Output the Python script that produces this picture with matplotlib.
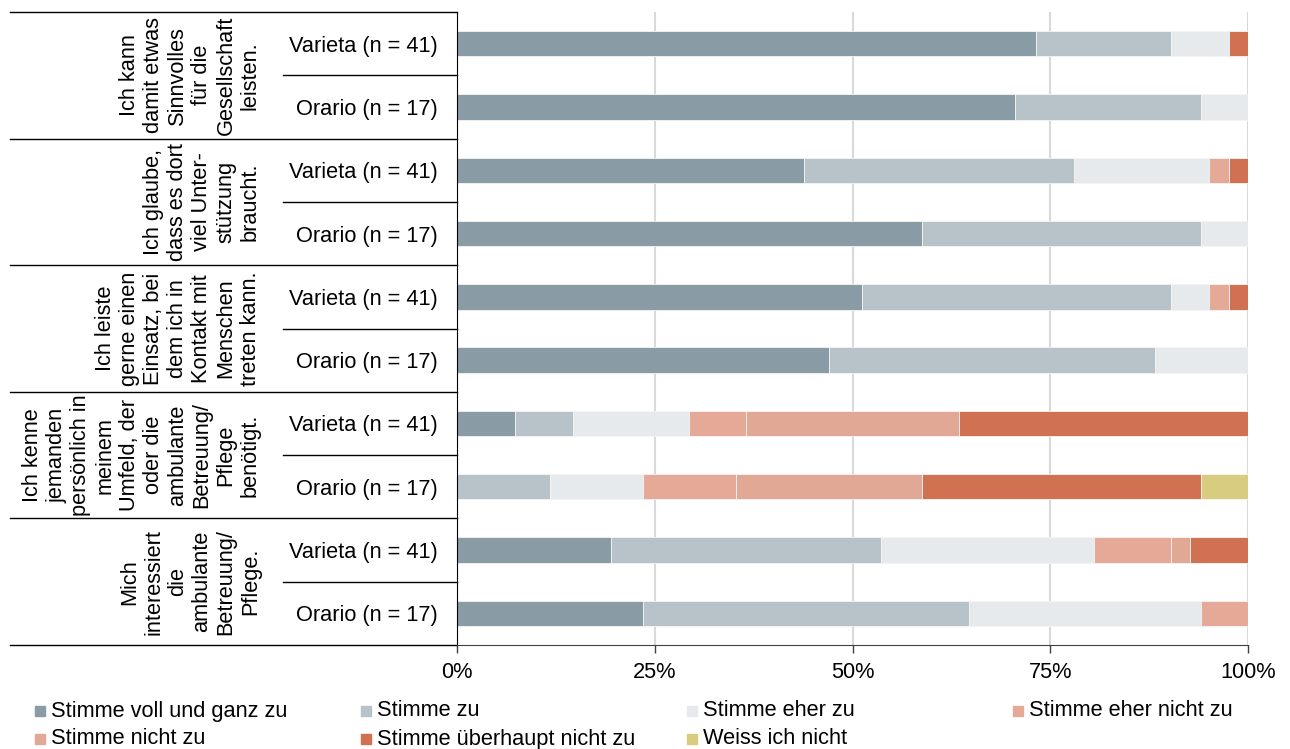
import numpy as np
import matplotlib.pyplot as plt
from matplotlib.patches import Rectangle

plt.rcParams['font.family'] = ['Liberation Sans', 'DejaVu Sans']
plt.rcParams['font.size'] = 15.7

categories = ['Stimme voll und ganz zu', 'Stimme zu', 'Stimme eher zu',
              'Stimme eher nicht zu', 'Stimme nicht zu',
              'Stimme überhaupt nicht zu', 'Weiss ich nicht']
colors = ['#899ba5', '#b7c3c9', '#e6eaed', '#e4a997', '#e2a896', '#d07152', '#d8cc7f']

questions = [
    'Ich kann\ndamit etwas\nSinnvolles\nfür die\nGesellschaft\nleisten.',
    'Ich glaube,\ndass es dort\nviel Unter-\nstützung\nbraucht.',
    'Ich leiste\ngerne einen\nEinsatz, bei\ndem ich in\nKontakt mit\nMenschen\ntreten kann.',
    'Ich kenne\njemanden\npersönlich in\nmeinem\nUmfeld, der\noder die\nambulante\nBetreuung/\nPflege\nbenötigt.',
    'Mich\ninteressiert\ndie\nambulante\nBetreuung/\nPflege.',
]
groups = ['Varieta (n = 41)', 'Orario (n = 17)']
group_n = [41, 17]

# counts per question, order of categories
varieta = [[30, 7, 3, 0, 0, 1, 0],
           [18, 14, 7, 1, 0, 1, 0],
           [21, 16, 2, 1, 0, 1, 0],
           [3, 3, 6, 3, 11, 15, 0],
           [8, 14, 11, 4, 1, 3, 0]]
orario = [[12, 4, 1, 0, 0, 0, 0],
          [10, 6, 1, 0, 0, 0, 0],
          [8, 7, 2, 0, 0, 0, 0],
          [0, 2, 2, 2, 4, 6, 1],
          [4, 7, 5, 1, 0, 0, 0]]

rows = []
labels = []
for q in range(len(questions)):
    rows.append(np.array(varieta[q]) / group_n[0])
    labels.append(groups[0])
    rows.append(np.array(orario[q]) / group_n[1])
    labels.append(groups[1])
rows = np.array(rows)
ypos = np.arange(len(rows))

fig = plt.figure(figsize=(12.9, 7.49), dpi=100)
ax = fig.add_axes([457 / 1290, 104 / 749, 791 / 1290, 633 / 749])

left = np.zeros(len(rows))
for k in range(len(categories)):
    ax.barh(ypos, rows[:, k], left=left, height=0.4, color=colors[k],
            edgecolor='#f4f4f4', linewidth=0.6, zorder=2)
    left += rows[:, k]

ax.set_xlim(0, 1)
ax.set_ylim(len(rows) - 0.5, -0.5)
ax.set_xticks([0, 0.25, 0.5, 0.75, 1.0])
ax.set_xticklabels(['0%', '25%', '50%', '75%', '100%'])
ax.xaxis.grid(True, color='#d9d9d9', linewidth=1.5, zorder=0)
ax.set_axisbelow(True)
ax.set_yticks(ypos)
ax.set_yticklabels(labels)
ax.tick_params(axis='y', length=0, pad=14)
ax.tick_params(axis='x', length=6, width=1, color='#404040', pad=6)
for s in ['top', 'right']:
    ax.spines[s].set_visible(False)
ax.spines['left'].set_color('black')
ax.spines['bottom'].set_color('#404040')

# table lines on the left
tr = ax.get_yaxis_transform()
for q in range(len(questions) + 1):
    b = 2 * q - 0.5
    ax.plot([-0.565, 0], [b, b], color='black', lw=1, transform=tr, clip_on=False)
for q in range(len(questions)):
    b = 2 * q + 0.5
    ax.plot([-0.22, 0], [b, b], color='black', lw=1, transform=tr, clip_on=False)
    ax.text(-0.248, 2 * q + 0.5, questions[q], rotation=90, ha='right', va='center',
            multialignment='center', linespacing=1.2, transform=tr)

# legend
for i, (lab, c) in enumerate(zip(categories, colors)):
    col, row = i % 4, i // 4
    x = (35 + 326 * col) / 1290
    y = 1 - (711 + 28 * row) / 749
    fig.patches.append(Rectangle((x, y - 5 / 749), 10 / 1290, 10 / 749,
                                 transform=fig.transFigure, color=c))
    fig.text(x + 16 / 1290, y, lab, va='center', ha='left')

fig.savefig('out.png', dpi=100)
